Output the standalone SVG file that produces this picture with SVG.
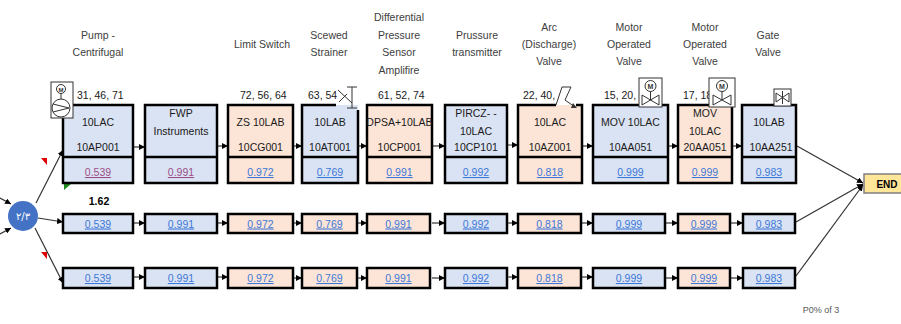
<svg xmlns="http://www.w3.org/2000/svg" width="901" height="324" viewBox="0 0 901 324">
<defs>
<style>
text{font-family:"Liberation Sans",Arial,sans-serif;font-size:10.5px;}
.hd{fill:#404040;text-anchor:middle;}
.num{fill:#1a1a1a;}
.t{fill:#1a1a1a;text-anchor:middle;}
.v{fill:#3C78D8;text-anchor:middle;text-decoration:underline;}
.vp{fill:#9B4F87;text-anchor:middle;text-decoration:underline;}
.bl{fill:#DAE3F3;stroke:#000;stroke-width:2.5;}
.or{fill:#FCE4D6;stroke:#000;stroke-width:2.5;}
.dv{stroke:#000;stroke-width:2.5;}
.cn{stroke:#333;stroke-width:1.2;fill:none;}
.sym{fill:#fff;stroke:#333;stroke-width:1;}
.sl{fill:none;stroke:#333;stroke-width:1;}
</style>
<marker id="ah" viewBox="0 0 6 6" refX="6" refY="3" markerWidth="6" markerHeight="6" orient="auto" markerUnits="userSpaceOnUse"><path d="M0,0 L6,3 L0,6 z" fill="#000"/></marker>
</defs>
<rect width="901" height="324" fill="#fff"/>

<g id="headers">
<text class="hd" x="98" y="39">Pump -</text><text class="hd" x="98" y="56">Centrifugal</text>
<text class="hd" x="262" y="48">Limit Switch</text>
<text class="hd" x="329" y="39">Scewed</text><text class="hd" x="329" y="56">Strainer</text>
<text class="hd" x="399" y="21">Differential</text><text class="hd" x="399" y="39">Pressure</text><text class="hd" x="399" y="56">Sensor</text><text class="hd" x="399" y="74">Amplifire</text>
<text class="hd" x="477" y="39">Prussure</text><text class="hd" x="477" y="56">transmitter</text>
<text class="hd" x="549" y="31">Arc</text><text class="hd" x="549" y="48">(Discharge)</text><text class="hd" x="549" y="65">Valve</text>
<text class="hd" x="629" y="31">Motor</text><text class="hd" x="629" y="48">Operated</text><text class="hd" x="629" y="65">Valve</text>
<text class="hd" x="705" y="31">Motor</text><text class="hd" x="705" y="48">Operated</text><text class="hd" x="705" y="65">Valve</text>
<text class="hd" x="768" y="39">Gate</text><text class="hd" x="768" y="56">Valve</text>
</g>
<g id="numbers">
<text class="num" x="77" y="99">31, 46, 71</text>
<text class="num" x="240" y="99">72, 56, 64</text>
<text class="num" x="308" y="99">63, 54</text>
<text class="num" x="378" y="99">61, 52, 74</text>
<text class="num" x="523" y="99">22, 40,</text>
<text class="num" x="604" y="99">15, 20,</text>
<text class="num" x="683" y="99">17, 18</text>
</g>

<g id="connectors">
<line class="cn" x1="0" y1="198" x2="11" y2="204" marker-end="url(#ah)"/>
<line class="cn" x1="0" y1="234" x2="11" y2="228" marker-end="url(#ah)"/>
<line class="cn" x1="36" y1="203" x2="63" y2="150" marker-end="url(#ah)"/>
<line class="cn" x1="38" y1="218" x2="63" y2="222" marker-end="url(#ah)"/>
<line class="cn" x1="35" y1="228" x2="63" y2="283" marker-end="url(#ah)"/>
<line class="cn" x1="134" y1="147" x2="145" y2="147" marker-end="url(#ah)"/>
<line class="cn" x1="218" y1="146" x2="228" y2="146" marker-end="url(#ah)"/>
<line class="cn" x1="294" y1="146" x2="302" y2="146" marker-end="url(#ah)"/>
<line class="cn" x1="359" y1="146" x2="367" y2="146" marker-end="url(#ah)"/>
<line class="cn" x1="433" y1="146" x2="445" y2="146" marker-end="url(#ah)"/>
<line class="cn" x1="470" y1="145" x2="518" y2="145" marker-end="url(#ah)"/>
<line class="cn" x1="583" y1="146" x2="593" y2="146" marker-end="url(#ah)"/>
<line class="cn" x1="669" y1="146" x2="678" y2="146" marker-end="url(#ah)"/>
<line class="cn" x1="733" y1="146" x2="742" y2="146" marker-end="url(#ah)"/>
<line class="cn" x1="797" y1="146" x2="863" y2="183" marker-end="url(#ah)"/>
<line class="cn" x1="134" y1="223" x2="145" y2="223" marker-end="url(#ah)"/>
<line class="cn" x1="218" y1="223" x2="228" y2="223" marker-end="url(#ah)"/>
<line class="cn" x1="294" y1="223" x2="302" y2="223" marker-end="url(#ah)"/>
<line class="cn" x1="358" y1="223" x2="367" y2="223" marker-end="url(#ah)"/>
<line class="cn" x1="432" y1="223" x2="445" y2="223" marker-end="url(#ah)"/>
<line class="cn" x1="508" y1="223" x2="518" y2="223" marker-end="url(#ah)"/>
<line class="cn" x1="582" y1="223" x2="593" y2="223" marker-end="url(#ah)"/>
<line class="cn" x1="666" y1="223" x2="678" y2="223" marker-end="url(#ah)"/>
<line class="cn" x1="731" y1="223" x2="743" y2="223" marker-end="url(#ah)"/>
<line class="cn" x1="796" y1="222" x2="863" y2="184" marker-end="url(#ah)"/>
<line class="cn" x1="134" y1="277" x2="145" y2="277" marker-end="url(#ah)"/>
<line class="cn" x1="218" y1="277" x2="228" y2="277" marker-end="url(#ah)"/>
<line class="cn" x1="294" y1="278" x2="302" y2="278" marker-end="url(#ah)"/>
<line class="cn" x1="358" y1="278" x2="367" y2="278" marker-end="url(#ah)"/>
<line class="cn" x1="432" y1="278" x2="445" y2="278" marker-end="url(#ah)"/>
<line class="cn" x1="508" y1="277" x2="518" y2="277" marker-end="url(#ah)"/>
<line class="cn" x1="582" y1="277" x2="593" y2="277" marker-end="url(#ah)"/>
<line class="cn" x1="666" y1="278" x2="678" y2="278" marker-end="url(#ah)"/>
<line class="cn" x1="731" y1="278" x2="743" y2="278" marker-end="url(#ah)"/>
<line class="cn" x1="796" y1="276" x2="863" y2="185" marker-end="url(#ah)"/>
</g>

<path d="M41,158 L47,158 L47,165 z" fill="#E00000"/>
<path d="M41,252 L47,252 L47,259 z" fill="#E00000"/>
<path d="M64,184 L71,184 L64,190 z" fill="#1E8C1E"/>
<text x="99" y="205" style="font-weight:bold;font-size:10.5px;fill:#000;text-anchor:middle">1.62</text>

<g id="vote">
<circle cx="23" cy="216" r="15" fill="#4472C4"/>
<text x="23" y="220" style="fill:#fff;text-anchor:middle;font-family:'DejaVu Sans',sans-serif;font-size:10px">٢/٣</text>
</g>

<g id="n1"><rect class="bl" x="63" y="105" width="70" height="78"/><line class="dv" x1="63" y1="157" x2="133" y2="157"/>
<text class="t" x="98" y="126">10LAC</text><text class="t" x="98" y="151">10AP001</text><text class="vp" x="98" y="176">0.539</text></g>
<g id="n2"><rect class="bl" x="145" y="105" width="72" height="78"/><line class="dv" x1="145" y1="157" x2="217" y2="157"/>
<text class="t" x="181" y="117">FWP</text><text class="t" x="181" y="135">Instruments</text><text class="vp" x="181" y="176">0.991</text></g>
<g id="n3"><rect class="or" x="228" y="105" width="65" height="78"/><line class="dv" x1="228" y1="157" x2="293" y2="157"/>
<text class="t" x="260.5" y="126">ZS 10LAB</text><text class="t" x="260.5" y="151">10CG001</text><text class="v" x="260.5" y="176">0.972</text></g>
<g id="n4"><rect x="302" y="105" width="56" height="78" fill="#DAE3F3"/><path d="M336,105 L302,105 L302,183 L358,183 L358,110" fill="none" stroke="#000" stroke-width="2.5"/><line class="dv" x1="302" y1="157" x2="358" y2="157"/>
<text class="t" x="330" y="126">10LAB</text><text class="t" x="330" y="151">10AT001</text><text class="v" x="330" y="176">0.769</text></g>
<g id="n5"><rect class="or" x="367" y="105" width="65" height="78"/><line class="dv" x1="367" y1="157" x2="432" y2="157"/>
<text class="t" x="399.5" y="126">DPSA+10LAB</text><text class="t" x="399.5" y="151">10CP001</text><text class="v" x="399.5" y="176">0.991</text></g>
<g id="n6"><rect class="bl" x="445" y="105" width="62" height="78"/><line class="dv" x1="445" y1="157" x2="507" y2="157"/>
<text class="t" x="476" y="117">PIRCZ- -</text><text class="t" x="476" y="135">10LAC</text><text class="t" x="476" y="151">10CP101</text><text class="v" x="476" y="176">0.992</text></g>
<g id="n7"><rect x="518" y="105" width="64" height="78" fill="#FCE4D6"/><path d="M556,105 L518,105 L518,183 L582,183 L582,105 L576,105" fill="none" stroke="#000" stroke-width="2.5"/><line class="dv" x1="518" y1="157" x2="582" y2="157"/>
<text class="t" x="550" y="126">10LAC</text><text class="t" x="550" y="151">10AZ001</text><text class="v" x="550" y="176">0.818</text></g>
<g id="n8"><rect class="bl" x="593" y="105" width="75" height="78"/><line class="dv" x1="593" y1="157" x2="668" y2="157"/>
<text class="t" x="630.5" y="126">MOV 10LAC</text><text class="t" x="630.5" y="151">10AA051</text><text class="v" x="630.5" y="176">0.999</text></g>
<g id="n9"><rect class="or" x="678" y="105" width="54" height="78"/><line class="dv" x1="678" y1="157" x2="732" y2="157"/>
<text class="t" x="705" y="117">MOV</text><text class="t" x="705" y="135">10LAC</text><text class="t" x="705" y="151">20AA051</text><text class="v" x="705" y="176">0.999</text></g>
<g id="n10"><rect class="bl" x="742" y="105" width="54" height="78"/><line class="dv" x1="742" y1="157" x2="796" y2="157"/>
<text class="t" x="769" y="126">10LAB</text><text class="t" x="771" y="151">10AA251</text><text class="v" x="769" y="176">0.983</text></g>

<g id="sym-pump"><rect class="sym" x="51" y="82" width="22" height="36"/><circle class="sl" cx="61" cy="89" r="4.5"/><text x="61" y="92" style="font-size:6px;text-anchor:middle;fill:#333;font-weight:bold">M</text>
<line class="sl" x1="61" y1="93.5" x2="61" y2="99"/><circle class="sl" cx="61" cy="108" r="9"/><path class="sl" d="M53,104 L69,108 L53,112"/></g>
<g id="sym-strainer"><line class="sl" x1="338" y1="90" x2="352" y2="103"/><line class="sl" x1="339" y1="102" x2="347" y2="94"/><line class="sl" x1="352" y1="87" x2="352" y2="108"/><line class="sl" x1="347" y1="87" x2="357" y2="87"/><line class="sl" x1="347" y1="108" x2="357" y2="108"/></g>
<g id="sym-check"><path class="sl" d="M556,105 L562,87 L571,87 L565,100 L575,107"/><path d="M573,103 L577,108 L571,108 z" fill="#333"/></g>
<g id="sym-mov1"><rect class="sym" x="639" y="78" width="23" height="29"/><circle class="sl" cx="650.5" cy="86" r="5.5"/><text x="650.5" y="89" style="font-size:7px;text-anchor:middle;fill:#333;font-weight:bold">M</text>
<line class="sl" x1="650.5" y1="91.5" x2="650.5" y2="100"/><path class="sl" d="M642,95 L659,105 L659,95 L642,105 z"/></g>
<g id="sym-mov2"><rect class="sym" x="709" y="78" width="26" height="29"/><circle class="sl" cx="722" cy="86" r="5.5"/><text x="722" y="89" style="font-size:7px;text-anchor:middle;fill:#333;font-weight:bold">M</text>
<line class="sl" x1="722" y1="91.5" x2="722" y2="100"/><path class="sl" d="M713,95 L731,105 L731,95 L713,105 z"/></g>
<g id="sym-gate"><rect class="sym" x="774" y="89" width="17" height="17"/><path class="sl" d="M776,93 L789,102 L789,93 L776,102 z"/><line class="sl" x1="782.5" y1="91" x2="782.5" y2="104"/></g>

<g id="m1"><rect class="bl" x="63" y="214" width="70" height="19"/><text class="v" x="98" y="227.5">0.539</text></g>
<g id="m2"><rect class="bl" x="145" y="214" width="72" height="19"/><text class="v" x="181" y="227.5">0.991</text></g>
<g id="m3"><rect class="or" x="228" y="214" width="65" height="19"/><text class="v" x="260.5" y="227.5">0.972</text></g>
<g id="m4"><rect class="or" x="302" y="214" width="55" height="19"/><text class="v" x="329.5" y="227.5">0.769</text></g>
<g id="m5"><rect class="or" x="367" y="214" width="63" height="19"/><text class="v" x="398.5" y="227.5">0.991</text></g>
<g id="m6"><rect class="bl" x="445" y="214" width="62" height="19"/><text class="v" x="476" y="227.5">0.992</text></g>
<g id="m7"><rect class="or" x="518" y="214" width="63" height="19"/><text class="v" x="549.5" y="227.5">0.818</text></g>
<g id="m8"><rect class="bl" x="593" y="214" width="72" height="19"/><text class="v" x="629" y="227.5">0.999</text></g>
<g id="m9"><rect class="or" x="678" y="214" width="52" height="19"/><text class="v" x="704" y="227.5">0.999</text></g>
<g id="m10"><rect class="bl" x="743" y="214" width="52" height="19"/><text class="v" x="769" y="227.5">0.983</text></g>

<g id="b1"><rect class="bl" x="63" y="268" width="70" height="20"/><text class="v" x="98" y="282">0.539</text></g>
<g id="b2"><rect class="bl" x="145" y="268" width="72" height="20"/><text class="v" x="181" y="282">0.991</text></g>
<g id="b3"><rect class="or" x="228" y="268" width="65" height="20"/><text class="v" x="260.5" y="282">0.972</text></g>
<g id="b4"><rect class="or" x="302" y="268" width="55" height="20"/><text class="v" x="329.5" y="282">0.769</text></g>
<g id="b5"><rect class="or" x="367" y="268" width="63" height="20"/><text class="v" x="398.5" y="282">0.991</text></g>
<g id="b6"><rect class="bl" x="445" y="268" width="62" height="20"/><text class="v" x="476" y="282">0.992</text></g>
<g id="b7"><rect class="or" x="518" y="268" width="63" height="20"/><text class="v" x="549.5" y="282">0.818</text></g>
<g id="b8"><rect class="bl" x="593" y="268" width="72" height="20"/><text class="v" x="629" y="282">0.999</text></g>
<g id="b9"><rect class="or" x="678" y="268" width="52" height="20"/><text class="v" x="704" y="282">0.999</text></g>
<g id="b10"><rect class="bl" x="743" y="268" width="52" height="20"/><text class="v" x="769" y="282">0.983</text></g>

<g id="end"><rect x="864" y="174" width="42" height="19" fill="#FFE699" stroke="#7F7F7F" stroke-width="1.5"/><text x="887" y="187.5" style="font-weight:bold;font-size:10px;fill:#000;text-anchor:middle">END</text></g>

<text x="821" y="313" style="font-size:9px;fill:#595959;text-anchor:middle">P0% of 3</text>
</svg>
